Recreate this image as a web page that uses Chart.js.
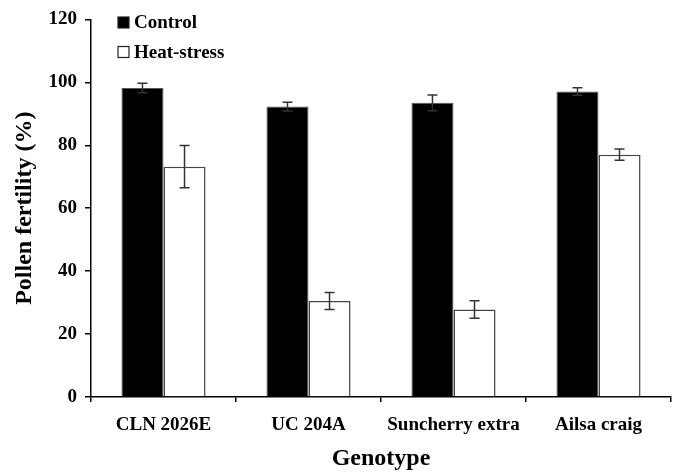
<!DOCTYPE html>
<html>
<head>
<meta charset="utf-8">
<script src="https://cdn.jsdelivr.net/npm/chart.js@4"></script>
<style>
  html, body { margin: 0; padding: 0; background: #fff; }
  #wrap { width: 674px; height: 472px; position: relative; }
</style>
</head>
<body>
<div id="wrap"><canvas id="c"></canvas></div>
<script>
const categories = ['CLN 2026E', 'UC 204A', 'Suncherry extra', 'Ailsa craig'];
const seriesNames = ['Control', 'Heat-stress'];
const controlValues = [98.2, 92.3, 93.5, 97.1];
const controlErrors = [1.5, 1.4, 2.5, 1.2];
const heatValues = [73.2, 30.5, 27.8, 77.0];
const heatErrors = [6.7, 2.7, 2.8, 1.8];
const yTickValues = [0, 20, 40, 60, 80, 100, 120];

const FONT = "'Liberation Serif', 'Times New Roman', serif";

const errorBars = {
  id: 'errorBars',
  afterDatasetsDraw(chart) {
    const ctx = chart.ctx;
    const y = chart.scales.y;
    ctx.save();
    ctx.strokeStyle = '#333';
    ctx.lineWidth = 1.5;
    chart.data.datasets.forEach((ds, di) => {
      const meta = chart.getDatasetMeta(di);
      meta.data.forEach((bar, i) => {
        const v = ds.data[i], e = ds.errors[i];
        const x = bar.x;
        const yt = y.getPixelForValue(v + e);
        const yb = y.getPixelForValue(v - e);
        ctx.beginPath();
        ctx.moveTo(x, yt); ctx.lineTo(x, yb);
        ctx.moveTo(x - 5, yt); ctx.lineTo(x + 5, yt);
        ctx.moveTo(x - 5, yb); ctx.lineTo(x + 5, yb);
        ctx.stroke();
      });
    });
    ctx.restore();
  }
};

const legendPlugin = {
  id: 'customLegend',
  afterDraw(chart) {
    const ctx = chart.ctx;
    ctx.save();
    const x0 = 118, ys = [22.5, 52];
    ctx.font = "bold 19px " + FONT;
    ctx.textBaseline = 'middle';
    ctx.textAlign = 'left';
    chart.data.datasets.forEach((ds, i) => {
      const yc = ys[i];
      ctx.fillStyle = ds.backgroundColor;
      ctx.fillRect(x0, yc - 5.5, 11, 11);
      ctx.strokeStyle = '#222';
      ctx.lineWidth = 1.2;
      ctx.strokeRect(x0, yc - 5.5, 11, 11);
      ctx.fillStyle = '#000';
      ctx.fillText(ds.label, x0 + 16, yc + 1);
    });
    ctx.restore();
  }
};

new Chart(document.getElementById('c'), {
  type: 'bar',
  data: {
    labels: categories,
    datasets: [
      { label: seriesNames[0], data: controlValues, errors: controlErrors,
        backgroundColor: '#000000', borderColor: '#555', borderWidth: 1 },
      { label: seriesNames[1], data: heatValues, errors: heatErrors,
        backgroundColor: '#ffffff', borderColor: '#444', borderWidth: 1.5 }
    ]
  },
  options: {
    responsive: true,
    maintainAspectRatio: false,
    animation: false,
    devicePixelRatio: 1,
    layout: { padding: { top: 16, right: 3, left: 0, bottom: 0 } },
    datasets: { bar: { categoryPercentage: 0.58, barPercentage: 1.0 } },
    plugins: { legend: { display: false }, tooltip: { enabled: false } },
    scales: {
      x: {
        grid: { offset: true, drawOnChartArea: false, color: '#000', tickLength: 5, lineWidth: 1.5 },
        border: { color: '#000', width: 1.5 },
        ticks: { color: '#000', font: { family: FONT, size: 19, weight: 'bold' }, padding: 12, maxRotation: 0 },
        title: { display: true, text: 'Genotype', color: '#000', font: { family: FONT, size: 24, weight: 'bold', lineHeight: 1.1 }, padding: { top: 0, bottom: 0 } },
        afterFit(s) { s.height = 75; }
      },
      y: {
        min: 0, max: 120,
        afterBuildTicks(s) { s.ticks = yTickValues.map(v => ({ value: v })); },
        grid: { drawOnChartArea: false, color: '#000', tickLength: 6, lineWidth: 1.5 },
        border: { color: '#000', width: 1.5 },
        ticks: { color: '#000', font: { family: FONT, size: 19, weight: 'bold' }, padding: 8 },
        title: { display: true, text: 'Pollen fertility (%)', color: '#000', font: { family: FONT, size: 24, weight: 'bold', lineHeight: 1.1 }, padding: { top: 12, bottom: 0 } },
        afterFit(s) { s.width = 91; }
      }
    }
  },
  plugins: [errorBars, legendPlugin]
});
</script>
</body>
</html>
